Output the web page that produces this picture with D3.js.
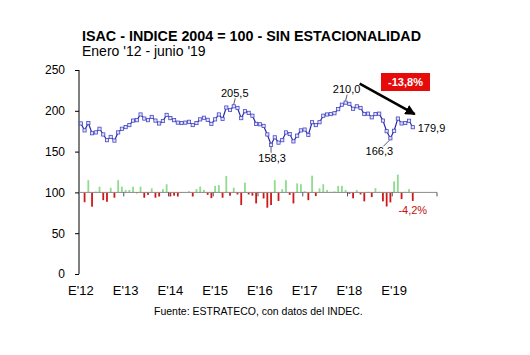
<!DOCTYPE html>
<html><head><meta charset="utf-8">
<script src="https://cdn.jsdelivr.net/npm/d3@7"></script>
<style>body{margin:0;background:#fff}svg{display:block;font-family:"Liberation Sans",Arial,sans-serif}</style>
</head><body><svg id="c" width="530" height="355"></svg>
<script>
// ---- data ----
const years = ["12","13","14","15","16","17","18","19"];
const monthAbbr = ["E","F","M","A","M","J","J","A","S","O","N","D"];
const tickLabels = ["E'12","E'13","E'14","E'15","E'16","E'17","E'18","E'19"];
const yTicks = [0,50,100,150,200,250];
// ISAC index (2004=100, s.a.), Jan-2012 .. Jun-2019
const isac = [184.5,176,185,172.5,173.5,178,171,164,168,163.5,
173.5,178,180,182.5,188,188.5,195.5,190.5,188.5,192.5,
188,184.5,187.5,195,191,188.5,185.5,185,185.5,186.5,
182.5,185,189.5,191.5,189,184,189.5,195.5,190,204,
201,205.5,203.5,191,199.5,197.5,194,184,183.5,181.5,
171,158.3,167.5,161,164,173.5,171.5,162.5,169.5,176,
177,170.5,186,182.5,186,194,195.5,196,197,202,
207.5,210.0,208.5,202.5,205.5,203.5,196,196.5,192,196,
196.5,188,175,166.3,175.5,190.5,184.5,185,187.8,179.9];
// monthly % change (bars around 100)
const change = [null,-4.8,6.0,-7.0,0.4,2.8,-3.8,-4.6,2.3,-2.6,
6.0,2.8,1.2,1.2,2.8,-0.4,2.8,-2.6,-1.2,2.0,
-2.6,-2.0,1.6,4.0,-2.0,-1.6,-2.0,-0.2,0.2,0.6,
-2.0,1.6,2.8,1.2,-1.2,-2.8,3.2,3.6,-2.6,8.0,
-1.6,2.3,-1.0,-6.2,4.8,-1.0,-1.6,-5.4,-0.3,-3.0,
-7.5,-6.2,6.0,-4.2,1.6,6.0,-1.2,-5.4,4.4,4.0,
0.6,-3.8,8.2,-1.8,2.0,4.0,1.2,0.3,0.5,3.2,
3.2,1.2,-0.7,-2.9,1.2,-1.0,-4.4,0.3,-2.3,2.1,
0.3,-4.4,-6.9,-4.9,5.4,8.7,-3.3,0.3,1.6,-4.2];
const labelled = [
  {i:41, text:"205,5", pos:"above"},
  {i:51, text:"158,3", pos:"below"},
  {i:71, text:"210,0", pos:"above"},
  {i:83, text:"166,3", pos:"belowLeft"},
];
const lastLabel = "179,9";
const dropLabel = "-13,8%";
const lastChangeLabel = "-4,2%";
const BAR_FACTOR = 2.5;

const categories = [];
years.forEach(y => monthAbbr.forEach((m,k) => categories.push(y + "-" + (k+1))));

// ---- chart ----
const svg = d3.select("#c");
const x = d3.scaleBand().domain(categories).range([79, 437]).padding(0);
const cx = i => x(categories[i]) + x.bandwidth()/2;
const y = d3.scaleLinear().domain([0,250]).range([274,70]);

// title
svg.append("text").attr("x",82).attr("y",41).attr("font-size",14).attr("font-weight","bold")
  .attr("textLength",339).attr("lengthAdjust","spacingAndGlyphs")
  .text("ISAC - INDICE 2004 = 100 - SIN ESTACIONALIDAD");
svg.append("text").attr("x",82).attr("y",56).attr("font-size",14).text("Enero '12 - junio '19");

// y axis
const yAxis = d3.axisLeft(y).tickValues(yTicks).tickSize(4).tickPadding(10);
const ya = svg.append("g").attr("transform","translate(79,0)").call(yAxis);
ya.select(".domain").attr("stroke","#000").attr("d","M0,70V274");
ya.selectAll(".tick line").attr("stroke","#000");
ya.selectAll(".tick text").attr("font-size",12).attr("font-family","Liberation Sans, Arial, sans-serif").attr("fill","#000");

// bars
const barData = change.map((c,i)=>({i,c})).filter(d=>d.c!==null);
svg.append("g").selectAll("rect").data(barData).join("rect")
  .attr("x", d => cx(d.i) - 0.9)
  .attr("width", 1.8)
  .attr("y", d => y(Math.max(100, 100 + d.c*BAR_FACTOR)))
  .attr("height", d => Math.abs(y(100) - y(100 + d.c*BAR_FACTOR)))
  .attr("fill", d => d.c >= 0 ? "#8fdc8f" : "#d01818");

// category axis at 100
const yearTicks = d3.range(0, 97, 12);
svg.append("line").attr("x1",79).attr("x2",437).attr("y1",y(100)).attr("y2",y(100))
  .attr("stroke","#8a8a8a").attr("stroke-width",1);
svg.append("g").selectAll("line").data(yearTicks.slice(1)).join("line")
  .attr("x1", k => 79 + k*x.step()).attr("x2", k => 79 + k*x.step())
  .attr("y1", y(100)).attr("y2", y(100)+4).attr("stroke","#555").attr("stroke-width",1);

// x labels
svg.append("g").selectAll("text").data(tickLabels).join("text")
  .attr("x",(t,k)=>cx(k*12)).attr("y",295).attr("text-anchor","middle").attr("font-size",13)
  .text(t=>t);

// line
const line = d3.line().x((d,i)=>cx(i)).y(d=>y(d));
svg.append("path").attr("d", line(isac)).attr("fill","none").attr("stroke","#2a2aa8").attr("stroke-width",1.2);
svg.append("g").selectAll("rect").data(isac).join("rect")
  .attr("x",(d,i)=>cx(i)-1.6).attr("y",d=>y(d)-1.6).attr("width",3.2).attr("height",3.2)
  .attr("fill","#dfe2ff").attr("stroke","#4646c0").attr("stroke-width",0.8);

// point labels with leader lines
labelled.forEach(l => {
  const px = cx(l.i), py = y(isac[l.i]);
  let tx, ty, lx1, ly1, lx2, ly2;
  if (l.pos === "above") { tx = px+1; ty = py-9.5; lx1 = px; ly1 = py-2; lx2 = px+1.5; ly2 = py-8; }
  else if (l.pos === "below") { tx = px+1; ty = py+17.5; lx1 = px; ly1 = py+2; lx2 = px; ly2 = py+8; }
  else { tx = px-11; ty = py+17; lx1 = px-1; ly1 = py+2; lx2 = px-7; ly2 = py+8; }
  svg.append("line").attr("x1",lx1).attr("y1",ly1).attr("x2",lx2).attr("y2",ly2).attr("stroke","#333").attr("stroke-width",0.8);
  svg.append("text").attr("x",tx).attr("y",ty).attr("text-anchor","middle").attr("font-size",11).text(l.text);
});
const li = isac.length-1;
svg.append("text").attr("x",cx(li)+5).attr("y",y(isac[li])+4.5).attr("font-size",11).text(lastLabel);

// arrow
svg.append("defs").append("marker").attr("id","ah").attr("viewBox","0 0 10 10").attr("refX",9).attr("refY",5)
  .attr("markerWidth",4).attr("markerHeight",4).attr("orient","auto")
  .append("path").attr("d","M0,0L10,5L0,10z").attr("fill","#000");
svg.append("line").attr("x1",cx(71)+14).attr("y1",y(210)-19).attr("x2",cx(li)+2).attr("y2",y(isac[li])-13)
  .attr("stroke","#000").attr("stroke-width",2.6).attr("marker-end","url(#ah)");

// red box
svg.append("rect").attr("x",381).attr("y",73).attr("width",49).attr("height",18).attr("fill","#e60a0a");
svg.append("text").attr("x",405.5).attr("y",86).attr("text-anchor","middle").attr("font-size",11)
  .attr("font-weight","bold").attr("fill","#fff").text(dropLabel);

// last change label
svg.append("text").attr("x",cx(li)).attr("y",214).attr("text-anchor","middle").attr("font-size",11)
  .attr("fill","#c01010").text(lastChangeLabel);

// source
svg.append("text").attr("x",154).attr("y",315).attr("font-size",10.5).text("Fuente: ESTRATECO, con datos del INDEC.");
</script></body></html>
